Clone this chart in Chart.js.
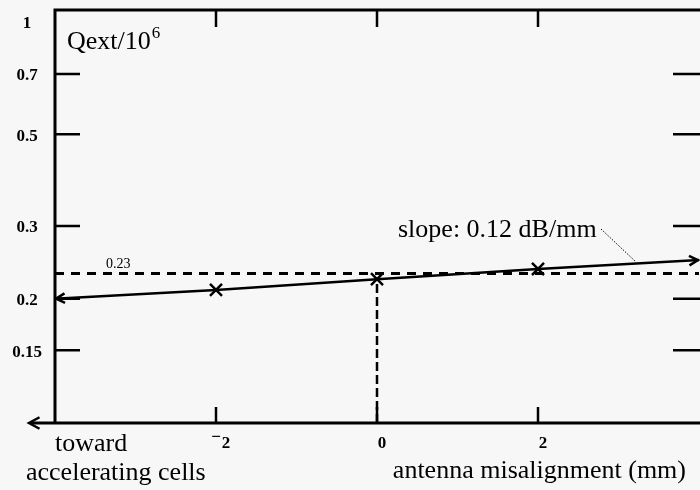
<!DOCTYPE html>
<html>
<head>
<meta charset="utf-8">
<script src="https://cdn.jsdelivr.net/npm/chart.js@4.4.1/dist/chart.umd.min.js"></script>
<style>
  html, body { margin: 0; padding: 0; background: #f7f7f7; }
  #wrap { width: 700px; height: 490px; }
</style>
</head>
<body>
<div id="wrap"><canvas id="qextChart" width="700" height="490"></canvas></div>
<script>
// antenna misalignment (mm) vs Qext/10^6
const misalign = [-4, -2, 0, 2, 4];
const qext = [0.2, 0.21, 0.223, 0.236, 0.248];
const refLevel = 0.23;
const yTicks = [1, 0.7, 0.5, 0.3, 0.2, 0.15];
const yTickLabels = ['1', '0.7', '0.5', '0.3', '0.2', '0.15'];
const xTicks = [-2, 0, 2];
const xTickLabels = ['\u22122', '0', '2'];

const serif = '"Liberation Serif", "DejaVu Serif", serif';

const mainPts = misalign.map((x, i) => ({ x: x, y: qext[i] }));
const refPts = [{ x: misalign[0], y: refLevel }, { x: misalign[misalign.length - 1], y: refLevel }];
const vertPts = [{ x: 0, y: 0.1 }, { x: 0, y: qext[misalign.indexOf(0)] }];

function arrowHead(ctx, x, y, ang, len) {
    ctx.beginPath();
    ctx.moveTo(x + len * Math.cos(ang + 0.5), y + len * Math.sin(ang + 0.5));
    ctx.lineTo(x, y);
    ctx.lineTo(x + len * Math.cos(ang - 0.5), y + len * Math.sin(ang - 0.5));
    ctx.stroke();
}

const decor = {
    id: 'decor',
    afterDatasetsDraw(chart) {
        const ctx = chart.ctx;
        const a = chart.chartArea;
        const xs = chart.scales.x, ys = chart.scales.y;
        ctx.save();
        ctx.strokeStyle = '#000';
        ctx.fillStyle = '#000';
        ctx.lineCap = 'butt';

        // frame
        ctx.lineWidth = 3;
        ctx.beginPath();
        ctx.moveTo(a.left, a.bottom);
        ctx.lineTo(a.left, a.top);
        ctx.lineTo(a.right + 2, a.top);
        ctx.stroke();
        ctx.beginPath();
        ctx.moveTo(30, a.bottom);
        ctx.lineTo(a.right + 2, a.bottom);
        ctx.stroke();
        ctx.lineWidth = 2.5;
        arrowHead(ctx, 29, a.bottom, 0, 12);

        // y ticks both sides
        ctx.lineWidth = 2.5;
        yTicks.forEach(v => {
            if (v >= 1) return;
            const py = ys.getPixelForValue(v);
            ctx.beginPath();
            ctx.moveTo(a.left, py); ctx.lineTo(a.left + 25, py);
            ctx.moveTo(a.right - 26, py); ctx.lineTo(a.right + 2, py);
            ctx.stroke();
        });
        // x ticks top and bottom
        xTicks.forEach(v => {
            const px = xs.getPixelForValue(v);
            ctx.beginPath();
            ctx.moveTo(px, a.top); ctx.lineTo(px, a.top + 17);
            ctx.moveTo(px, a.bottom); ctx.lineTo(px, a.bottom - 16);
            ctx.stroke();
        });

        // arrowheads at ends of the fitted line
        const p0 = { x: xs.getPixelForValue(mainPts[0].x), y: ys.getPixelForValue(mainPts[0].y) };
        const p1 = { x: xs.getPixelForValue(mainPts[1].x), y: ys.getPixelForValue(mainPts[1].y) };
        const pn = mainPts[mainPts.length - 1], pm = mainPts[mainPts.length - 2];
        const q1 = { x: xs.getPixelForValue(pn.x), y: ys.getPixelForValue(pn.y) };
        const q0 = { x: xs.getPixelForValue(pm.x), y: ys.getPixelForValue(pm.y) };
        ctx.lineWidth = 2.5;
        arrowHead(ctx, p0.x + 1, p0.y, Math.atan2(p1.y - p0.y, p1.x - p0.x), 10);
        arrowHead(ctx, q1.x - 1, q1.y, Math.atan2(q0.y - q1.y, q0.x - q1.x), 10);

        // tick labels
        ctx.font = 'bold 17px ' + serif;
        ctx.textAlign = 'center';
        ctx.textBaseline = 'middle';
        yTicks.forEach((v, i) => {
            let py = ys.getPixelForValue(v);
            if (v >= 1) py += 12;
            ctx.fillText(yTickLabels[i], 27, py + 2);
        });
        xTicks.forEach((v, i) => {
            const px = xs.getPixelForValue(v) + 5;
            const lbl = xTickLabels[i];
            if (lbl.charAt(0) === '\u2212') {
                // minus sign sits high, as in the original print
                ctx.fillText('\u2212', px - 5, a.bottom + 15);
                ctx.fillText(lbl.slice(1), px + 5, a.bottom + 21);
            } else {
                ctx.fillText(lbl, px, a.bottom + 21);
            }
        });

        // titles
        ctx.font = '26px ' + serif;
        ctx.textAlign = 'left';
        ctx.textBaseline = 'alphabetic';
        ctx.fillText('Qext/10', 67, 49);
        const w = ctx.measureText('Qext/10').width;
        ctx.font = '17px ' + serif;
        ctx.fillText('6', 67 + w + 1, 38);

        ctx.font = '26px ' + serif;
        ctx.fillText('toward', 55, 451);
        ctx.fillText('accelerating cells', 26, 480);
        ctx.textAlign = 'right';
        ctx.fillText('antenna misalignment (mm)', 686, 478);

        ctx.textAlign = 'left';
        ctx.fillText('slope: 0.12 dB/mm', 398, 237);
        ctx.font = '14px ' + serif;
        ctx.fillText('0.23', 106, 268);

        // dotted leader to the line
        ctx.lineWidth = 1;
        ctx.setLineDash([1.5, 1.5]);
        ctx.beginPath();
        ctx.moveTo(601, 229);
        ctx.lineTo(636, 262);
        ctx.stroke();
        ctx.restore();
    }
};

new Chart(document.getElementById('qextChart').getContext('2d'), {
    type: 'scatter',
    data: {
        datasets: [
            {
                data: refPts,
                showLine: true,
                borderColor: '#000',
                borderWidth: 3,
                borderDash: [9, 7],
                pointRadius: 0
            },
            {
                data: vertPts,
                showLine: true,
                borderColor: '#000',
                borderWidth: 2.5,
                borderDash: [9, 4],
                pointRadius: 0
            },
            {
                data: mainPts,
                showLine: true,
                borderColor: '#000',
                borderWidth: 2.5,
                tension: 0,
                pointStyle: 'crossRot',
                pointRadius: misalign.map((x, i) => (i === 0 || i === misalign.length - 1) ? 0 : 8.5),
                pointBorderWidth: 2.5,
                pointBorderColor: '#000'
            }
        ]
    },
    options: {
        responsive: false,
        animation: false,
        layout: { padding: { left: 55, right: 1, top: 10, bottom: 67 } },
        plugins: {
            legend: { display: false },
            tooltip: { enabled: false }
        },
        scales: {
            x: { type: 'linear', min: -4, max: 4, display: false },
            y: { type: 'logarithmic', min: 0.1, max: 1, display: false }
        }
    },
    plugins: [decor]
});
</script>
</body>
</html>
